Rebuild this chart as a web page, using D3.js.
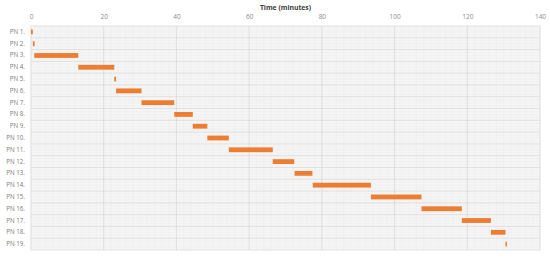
<!DOCTYPE html>
<html><head><meta charset="utf-8">
<script src="https://cdn.jsdelivr.net/npm/d3@7"></script>
<style>body{margin:0;background:#fff}svg{display:block}</style>
</head><body>
<script>
const categories = ["PN 1.","PN 2.","PN 3.","PN 4.","PN 5.","PN 6.","PN 7.","PN 8.","PN 9.","PN 10.","PN 11.","PN 12.","PN 13.","PN 14.","PN 15.","PN 16.","PN 17.","PN 18.","PN 19."];
const starts = [0, 0.5, 0.9, 13.0, 22.9, 23.4, 30.4, 39.4, 44.5, 48.5, 54.4, 66.5, 72.5, 77.5, 93.5, 107.4, 118.5, 126.5, 130.5];
const ends   = [0.5, 1.0, 13.0, 22.9, 23.4, 30.4, 39.4, 44.5, 48.5, 54.4, 66.5, 72.4, 77.4, 93.5, 107.4, 118.5, 126.5, 130.5, 130.9];
const xTicks = [0,20,40,60,80,100,120,140];
const axisTitle = "Time (minutes)";

const W = 550, H = 259;
const m = {left:31, right:10, top:26, bottom:9};
const svg = d3.select("body").append("svg").attr("width",W).attr("height",H);
const x = d3.scaleLinear().domain([0,140]).range([m.left, W - m.right]);
const y = d3.scaleBand().domain(categories).range([m.top, H - m.bottom]).paddingInner(0).paddingOuter(0);

// plot background
svg.append("rect").attr("x",x(0)).attr("y",m.top).attr("width",x(140)-x(0)).attr("height",H-m.bottom-m.top).attr("fill","#f5f5f5");
// minor grid
const g = svg.append("g");
g.selectAll("line.mv").data(d3.range(0,141,2)).join("line")
  .attr("x1",d=>x(d)).attr("x2",d=>x(d)).attr("y1",m.top).attr("y2",H-m.bottom)
  .attr("stroke","#ececec").attr("stroke-width",0.5);
const minorY = [];
categories.forEach(c=>{ for(let k=1;k<4;k++) minorY.push(y(c)+y.bandwidth()*k/4); });
g.selectAll("line.mh").data(minorY).join("line")
  .attr("x1",x(0)).attr("x2",x(140)).attr("y1",d=>d).attr("y2",d=>d)
  .attr("stroke","#ececec").attr("stroke-width",0.5);
// major grid
g.selectAll("line.hv").data(xTicks).join("line")
  .attr("x1",d=>x(d)).attr("x2",d=>x(d)).attr("y1",m.top).attr("y2",H-m.bottom)
  .attr("stroke","#dadada").attr("stroke-width",0.8);
const bounds = categories.map(c=>y(c)).concat([y(categories[categories.length-1])+y.bandwidth()]);
g.selectAll("line.hh").data(bounds).join("line")
  .attr("x1",x(0)).attr("x2",x(140)).attr("y1",d=>d).attr("y2",d=>d)
  .attr("stroke","#dadada").attr("stroke-width",0.8);

// bars
const bh = 4.8;
svg.append("g").selectAll("rect").data(categories).join("rect")
  .attr("x",(d,i)=>x(starts[i]))
  .attr("width",(d,i)=>Math.max(0.8, x(ends[i])-x(starts[i])))
  .attr("y",d=>y(d)+y.bandwidth()/2-bh/2)
  .attr("height",bh)
  .attr("fill","#ed7d31");

// top axis
const ax = svg.append("g").attr("transform",`translate(0,${m.top})`)
  .call(d3.axisTop(x).tickValues(xTicks).tickSize(0).tickPadding(7));
ax.select(".domain").remove();
ax.selectAll("text").attr("font-family","Open Sans, sans-serif").attr("font-size",6.5).attr("fill","#8c8c8c");

// row labels
const ay = svg.append("g").attr("transform",`translate(${m.left},0)`)
  .call(d3.axisLeft(y).tickSize(0).tickPadding(6));
ay.select(".domain").remove();
ay.selectAll("text").attr("font-family","Open Sans, sans-serif").attr("font-size",6.2).attr("fill","#7a7a7a");

svg.append("text").attr("x",(x(0)+x(140))/2).attr("y",9.5).attr("text-anchor","middle")
  .attr("font-family","Open Sans, sans-serif").attr("font-size",6.8).attr("font-weight","bold").attr("fill","#404040")
  .text(axisTitle);
</script>
</body></html>
